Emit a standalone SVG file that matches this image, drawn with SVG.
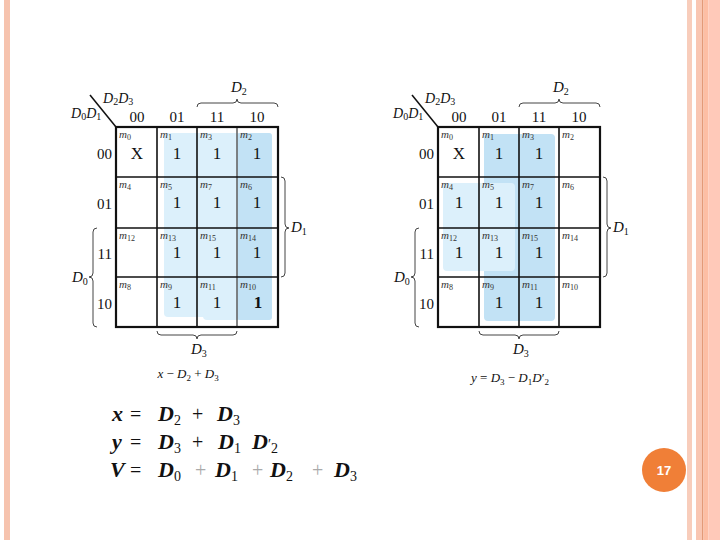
<svg xmlns="http://www.w3.org/2000/svg" width="720" height="540" viewBox="0 0 720 540">
<style>
text{font-family:"Liberation Serif","Times New Roman",serif;fill:#111}
.lab{font-size:15px}
.val{font-size:17px;text-anchor:middle}
.m{font-size:11px;font-style:italic;fill:#333}
.ms{font-size:8px;font-style:normal}
.var{font-size:15px;font-style:italic}
.hd{font-size:14px;font-style:italic}
.sub{font-size:10px;font-style:normal}
.cap{font-size:13px;text-anchor:middle}
.csub{font-size:9px;font-style:normal}
.grid{fill:none;stroke:#111;stroke-width:1.6}
.outer{fill:none;stroke:#111;stroke-width:2.2}
.brace{fill:none;stroke:#444;stroke-width:1}
.dark{fill:#c2e2f5}
.light{fill:#dcf0fb}
.f{font-size:22px;font-style:italic;font-weight:bold}
.fo{font-size:20px;font-style:normal;font-weight:normal}
.fs{font-size:14px;font-style:normal;font-weight:normal}
</style>

<g id="border">
<rect x="4" y="0" width="6" height="540" fill="#f6c3ae"/>
<rect x="687" y="0" width="5" height="540" fill="#f8cdbb"/>
<rect x="696" y="0" width="6" height="540" fill="#f9c6b2"/>
<rect x="702" y="0" width="1.5" height="540" fill="#e39a78"/>
<rect x="703.5" y="0" width="5" height="540" fill="#fdbea4"/>
<rect x="708.5" y="0" width="11.5" height="540" fill="#ffc9b9"/>
</g>

<g id="map-x">
<rect class="light" x="164" y="133" width="67" height="184" rx="4"/>
<rect class="light" x="203" y="133" width="69" height="187" rx="4"/>
<rect class="dark" x="237" y="133" width="35" height="187" rx="3"/>
<g class="grid">
<line x1="157" y1="127" x2="157" y2="327"/>
<line x1="197" y1="127" x2="197" y2="327"/>
<line x1="237" y1="127" x2="237" y2="327" stroke="#666"/>
<line x1="116" y1="177" x2="278" y2="177"/>
<line x1="116" y1="228" x2="278" y2="228"/>
<line x1="116" y1="277" x2="278" y2="277"/>
</g>
<rect class="outer" x="116" y="127" width="162" height="200"/>
<line x1="90" y1="95" x2="116" y2="127" stroke="#111" stroke-width="1.6"/>
<text class="hd" x="103" y="103">D<tspan class="sub" dy="2">2</tspan><tspan dy="-2">D</tspan><tspan class="sub" dy="2">3</tspan></text>
<text class="hd" x="71" y="118">D<tspan class="sub" dy="2">0</tspan><tspan dy="-2">D</tspan><tspan class="sub" dy="2">1</tspan></text>
<g class="lab" text-anchor="middle">
<text x="137" y="122">00</text><text x="177" y="122">01</text><text x="217" y="122">11</text><text x="257" y="122">10</text>
</g>
<g class="lab" text-anchor="end">
<text x="112" y="159">00</text><text x="112" y="209">01</text><text x="112" y="259">11</text><text x="112" y="309">10</text>
</g>
<g>
<text class="m" x="119" y="138">m<tspan class="ms" dy="2">0</tspan></text>
<text class="m" x="160" y="138">m<tspan class="ms" dy="2">1</tspan></text>
<text class="m" x="200" y="138">m<tspan class="ms" dy="2">3</tspan></text>
<text class="m" x="240" y="138">m<tspan class="ms" dy="2">2</tspan></text>
<text class="m" x="119" y="188">m<tspan class="ms" dy="2">4</tspan></text>
<text class="m" x="160" y="188">m<tspan class="ms" dy="2">5</tspan></text>
<text class="m" x="200" y="188">m<tspan class="ms" dy="2">7</tspan></text>
<text class="m" x="240" y="188">m<tspan class="ms" dy="2">6</tspan></text>
<text class="m" x="119" y="239">m<tspan class="ms" dy="2">12</tspan></text>
<text class="m" x="160" y="239">m<tspan class="ms" dy="2">13</tspan></text>
<text class="m" x="200" y="239">m<tspan class="ms" dy="2">15</tspan></text>
<text class="m" x="240" y="239">m<tspan class="ms" dy="2">14</tspan></text>
<text class="m" x="119" y="288">m<tspan class="ms" dy="2">8</tspan></text>
<text class="m" x="160" y="288">m<tspan class="ms" dy="2">9</tspan></text>
<text class="m" x="200" y="288">m<tspan class="ms" dy="2">11</tspan></text>
<text class="m" x="240" y="288">m<tspan class="ms" dy="2">10</tspan></text>
</g>
<g>
<text class="val" x="137" y="159">X</text><text class="val" x="177" y="159">1</text><text class="val" x="217" y="159">1</text><text class="val" x="257" y="159">1</text>
<text class="val" x="177" y="208">1</text><text class="val" x="217" y="208">1</text><text class="val" x="257" y="208">1</text>
<text class="val" x="177" y="258">1</text><text class="val" x="217" y="258">1</text><text class="val" x="257" y="258">1</text>
<text class="val" x="177" y="308">1</text><text class="val" x="217" y="308">1</text><text class="val" x="258" y="308" font-weight="bold">1</text>
</g>
<path class="brace" d="M197,107 Q197,103 201,103 L233,103 Q237,103 237,99 Q237,103 241,103 L274,103 Q278,103 278,107"/>
<text class="var" x="231" y="92">D<tspan class="sub" dy="3">2</tspan></text>
<path class="brace" d="M281,177 Q285,177 285,181 L285,224 Q285,228 289,228 Q285,228 285,232 L285,273 Q285,277 281,277"/>
<text class="var" x="291" y="232">D<tspan class="sub" dy="3">1</tspan></text>
<path class="brace" d="M97,228 Q93,228 93,232 L93,273 Q93,277 89,277 Q93,277 93,281 L93,323 Q93,327 97,327"/>
<text class="var" x="72" y="282">D<tspan class="sub" dy="3">0</tspan></text>
<path class="brace" d="M157,331 Q157,335 161,335 L193,335 Q197,335 197,339 Q197,335 201,335 L233,335 Q237,335 237,331"/>
<text class="var" x="191" y="354">D<tspan class="sub" dy="3">3</tspan></text>
<text class="cap" x="188" y="378"><tspan font-style="italic">x</tspan> − <tspan font-style="italic">D</tspan><tspan class="csub" dy="3">2</tspan><tspan dy="-3"> + </tspan><tspan font-style="italic">D</tspan><tspan class="csub" dy="3">3</tspan></text>
</g>

<g id="map-y">
<rect class="dark" x="484" y="134" width="71" height="187" rx="4"/>
<rect class="light" x="443" y="183" width="72" height="88" rx="4"/>
<g class="grid">
<line x1="479" y1="127" x2="479" y2="327"/>
<line x1="519" y1="127" x2="519" y2="327"/>
<line x1="559" y1="127" x2="559" y2="327"/>
<line x1="438" y1="177" x2="600" y2="177"/>
<line x1="438" y1="228" x2="600" y2="228"/>
<line x1="438" y1="277" x2="600" y2="277"/>
</g>
<rect class="outer" x="438" y="127" width="162" height="200"/>
<line x1="412" y1="95" x2="438" y2="127" stroke="#111" stroke-width="1.6"/>
<text class="hd" x="425" y="103">D<tspan class="sub" dy="2">2</tspan><tspan dy="-2">D</tspan><tspan class="sub" dy="2">3</tspan></text>
<text class="hd" x="393" y="118">D<tspan class="sub" dy="2">0</tspan><tspan dy="-2">D</tspan><tspan class="sub" dy="2">1</tspan></text>
<g class="lab" text-anchor="middle">
<text x="459" y="122">00</text><text x="499" y="122">01</text><text x="539" y="122">11</text><text x="579" y="122">10</text>
</g>
<g class="lab" text-anchor="end">
<text x="434" y="159">00</text><text x="434" y="209">01</text><text x="434" y="259">11</text><text x="434" y="309">10</text>
</g>
<g>
<text class="m" x="441" y="138">m<tspan class="ms" dy="2">0</tspan></text>
<text class="m" x="482" y="138">m<tspan class="ms" dy="2">1</tspan></text>
<text class="m" x="522" y="138">m<tspan class="ms" dy="2">3</tspan></text>
<text class="m" x="562" y="138">m<tspan class="ms" dy="2">2</tspan></text>
<text class="m" x="441" y="188">m<tspan class="ms" dy="2">4</tspan></text>
<text class="m" x="482" y="188">m<tspan class="ms" dy="2">5</tspan></text>
<text class="m" x="522" y="188">m<tspan class="ms" dy="2">7</tspan></text>
<text class="m" x="562" y="188">m<tspan class="ms" dy="2">6</tspan></text>
<text class="m" x="441" y="239">m<tspan class="ms" dy="2">12</tspan></text>
<text class="m" x="482" y="239">m<tspan class="ms" dy="2">13</tspan></text>
<text class="m" x="522" y="239">m<tspan class="ms" dy="2">15</tspan></text>
<text class="m" x="562" y="239">m<tspan class="ms" dy="2">14</tspan></text>
<text class="m" x="441" y="288">m<tspan class="ms" dy="2">8</tspan></text>
<text class="m" x="482" y="288">m<tspan class="ms" dy="2">9</tspan></text>
<text class="m" x="522" y="288">m<tspan class="ms" dy="2">11</tspan></text>
<text class="m" x="562" y="288">m<tspan class="ms" dy="2">10</tspan></text>
</g>
<g>
<text class="val" x="459" y="159">X</text><text class="val" x="499" y="159">1</text><text class="val" x="539" y="159">1</text>
<text class="val" x="459" y="208">1</text><text class="val" x="499" y="208">1</text><text class="val" x="539" y="208">1</text>
<text class="val" x="459" y="258">1</text><text class="val" x="499" y="258">1</text><text class="val" x="539" y="258">1</text>
<text class="val" x="499" y="308">1</text><text class="val" x="539" y="308">1</text>
</g>
<path class="brace" d="M519,107 Q519,103 523,103 L555,103 Q559,103 559,99 Q559,103 563,103 L596,103 Q600,103 600,107"/>
<text class="var" x="553" y="92">D<tspan class="sub" dy="3">2</tspan></text>
<path class="brace" d="M603,177 Q607,177 607,181 L607,224 Q607,228 611,228 Q607,228 607,232 L607,273 Q607,277 603,277"/>
<text class="var" x="613" y="232">D<tspan class="sub" dy="3">1</tspan></text>
<path class="brace" d="M419,228 Q415,228 415,232 L415,273 Q415,277 411,277 Q415,277 415,281 L415,323 Q415,327 419,327"/>
<text class="var" x="394" y="282">D<tspan class="sub" dy="3">0</tspan></text>
<path class="brace" d="M479,331 Q479,335 483,335 L515,335 Q519,335 519,339 Q519,335 523,335 L555,335 Q559,335 559,331"/>
<text class="var" x="513" y="354">D<tspan class="sub" dy="3">3</tspan></text>
<text class="cap" x="510" y="382"><tspan font-style="italic">y</tspan> = <tspan font-style="italic">D</tspan><tspan class="csub" dy="3">3</tspan><tspan dy="-3"> − </tspan><tspan font-style="italic">D</tspan><tspan class="csub" dy="3">1</tspan><tspan dy="-3" font-style="italic">D</tspan><tspan>′</tspan><tspan class="csub" dy="3">2</tspan></text>
</g>

<g id="formulas">
<text class="f" x="112" y="421">x<tspan class="fo" x="130">=</tspan><tspan x="158">D</tspan><tspan class="fs" dy="4">2</tspan><tspan class="fo" x="192" dy="-4">+</tspan><tspan x="217">D</tspan><tspan class="fs" dy="4">3</tspan></text>
<text class="f" x="112" y="449">y<tspan class="fo" x="130">=</tspan><tspan x="158">D</tspan><tspan class="fs" dy="4">3</tspan><tspan class="fo" x="192" dy="-4">+</tspan><tspan x="218">D</tspan><tspan class="fs" dy="4">1</tspan><tspan x="252" dy="-4">D</tspan><tspan class="fs">′</tspan><tspan class="fs" dy="4">2</tspan></text>
<text class="f" x="110" y="477">V<tspan class="fo" x="130">=</tspan><tspan x="158">D</tspan><tspan class="fs" dy="4">0</tspan><tspan class="fo" x="195" dy="-4" fill="#aaa">+</tspan><tspan x="215">D</tspan><tspan class="fs" dy="4">1</tspan><tspan class="fo" x="252" dy="-4" fill="#aaa">+</tspan><tspan x="270">D</tspan><tspan class="fs" dy="4">2</tspan><tspan class="fo" x="312" dy="-4" fill="#aaa">+</tspan><tspan x="334">D</tspan><tspan class="fs" dy="4">3</tspan></text>
</g>

<g id="page-number">
<circle cx="664" cy="470" r="22" fill="#f07f37"/>
<text x="664" y="475" text-anchor="middle" style="font-family:'Liberation Sans',Arial,sans-serif;font-size:13px;font-weight:bold;fill:#fff">17</text>
</g>
</svg>
